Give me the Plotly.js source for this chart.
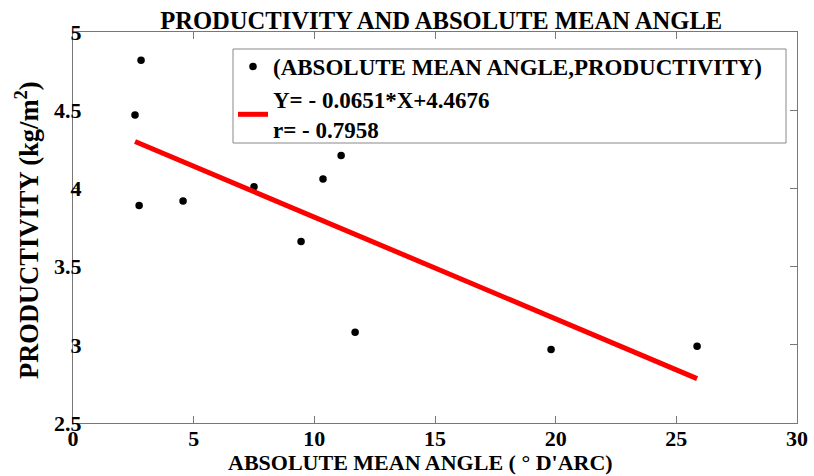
<!DOCTYPE html>
<html>
<head>
<meta charset="utf-8">
<script src="https://cdn.plot.ly/plotly-3.0.1.min.js"></script>
<style>html,body{margin:0;padding:0;background:#fff;}#chart{width:814px;height:476px;}</style>
</head>
<body>
<div id="chart"></div>
<script>
// Observations (absolute mean angle, productivity)
const angle = [2.82, 2.57, 2.74, 4.56, 7.50, 9.45, 10.36, 11.11, 11.69, 19.81, 25.86];
const productivity = [4.82, 4.47, 3.89, 3.92, 4.01, 3.66, 4.06, 4.21, 3.08, 2.97, 2.99];
// Fitted line end points
const fitX = [2.57, 25.86];
const fitY = [4.300, 2.784];
const xTicks = [0, 5, 10, 15, 20, 25, 30];
const yTicks = [2.5, 3, 3.5, 4, 4.5, 5];

const serif = 'Liberation Serif, Times New Roman, serif';

const traces = [
  {
    x: angle, y: productivity, type: 'scatter', mode: 'markers',
    name: '<b>(ABSOLUTE MEAN ANGLE,PRODUCTIVITY)</b>',
    marker: {color: '#000', size: 7.5}
  },
  {
    x: fitX, y: fitY, type: 'scatter', mode: 'lines',
    name: '<b>Y= - 0.0651*X+4.4676<br>r= - 0.7958</b>',
    line: {color: '#ff0000', width: 5}
  }
];

const axisCommon = {
  showgrid: false, zeroline: false,
  showline: true, linecolor: '#777', linewidth: 1, mirror: 'ticks',
  ticks: 'inside', ticklen: 7, tickcolor: '#777', tickwidth: 1,
  tickfont: {family: serif, size: 22, color: '#000', weight: 700}
};

const px = (p) => (p - 73) / 724;      // pixel x -> paper x
const py = (p) => (423 - p) / 391;     // pixel y -> paper y

const layout = {
  width: 814, height: 476,
  margin: {l: 73, r: 17, t: 32, b: 53},
  paper_bgcolor: '#fff', plot_bgcolor: '#fff',
  font: {family: serif, color: '#000'},
  title: {
    text: '<b>PRODUCTIVITY AND ABSOLUTE MEAN ANGLE</b>',
    font: {family: serif, size: 24.6, color: '#000'},
    xref: 'container', x: 0.542, xanchor: 'center',
    yref: 'container', y: 0.958, yanchor: 'middle'
  },
  xaxis: Object.assign({}, axisCommon, {
    range: [0, 30], tickvals: xTicks, ticktext: xTicks.map(v => '<b>' + v + '</b>'),
    ticklabelstandoff: -4
  }),
  yaxis: Object.assign({}, axisCommon, {
    range: [2.5, 5], tickvals: yTicks, ticktext: yTicks.map(v => '<b>' + v + '</b>'),
    ticklabelstandoff: -14
  }),
  annotations: [
    {
      text: '<b>ABSOLUTE MEAN ANGLE ( ° D\'ARC)</b>',
      xref: 'paper', yref: 'paper',
      x: px(420), y: py(462),
      xanchor: 'center', yanchor: 'middle', showarrow: false,
      font: {family: serif, size: 22, color: '#000'}
    },
    {
      text: '<b>PRODUCTIVITY (kg/m<sup>2</sup>)</b>',
      xref: 'paper', yref: 'paper',
      x: px(27), y: py(230), textangle: -90,
      xanchor: 'center', yanchor: 'middle', showarrow: false,
      font: {family: serif, size: 26.5, color: '#000'}
    }
  ],
  shapes: [{
    type: 'rect', xref: 'paper', yref: 'paper',
    x0: px(233), x1: px(786), y0: py(143), y1: py(49),
    line: {color: '#888', width: 1}, fillcolor: 'rgba(0,0,0,0)'
  }],
  showlegend: true,
  legend: {
    x: px(233), y: py(45), xanchor: 'left', yanchor: 'top',
    bgcolor: 'rgba(255,255,255,0)', borderwidth: 0,
    font: {family: serif, size: 23, color: '#000'},
    tracegroupgap: 0
  }
};

Plotly.newPlot('chart', traces, layout, {displayModeBar: false, staticPlot: true});
</script>
</body>
</html>
